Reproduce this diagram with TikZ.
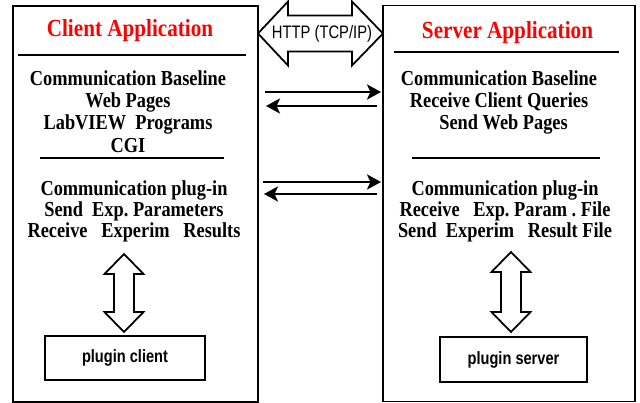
\documentclass[tikz,border=0pt]{standalone}
\usepackage{fontspec}
\setmainfont{Liberation Serif}[FakeStretch=0.86]
\newfontfamily\arialfont{Liberation Sans}[FakeStretch=0.82]
\usetikzlibrary{arrows.meta}
\definecolor{titlered}{RGB}{255,0,0}
\begin{document}
\begin{tikzpicture}[x=0.03cm,y=-0.03cm,
  appbox/.style={draw,line width=1.6pt,minimum height=11.88cm,inner sep=0pt},
  apptitle/.style={text=titlered,font=\fontsize{21}{23}\selectfont\bfseries},
  body/.style={align=center,font=\fontsize{18.2}{#1}\selectfont\bfseries},
  sepline/.style={line width=1.5pt},
  flow/.style={line width=1.6pt,-{Stealth[length=12pt,width=13pt,inset=3pt]}},
  fat/.style={draw,line width=1.5pt,fill=white,line join=miter},
  plugbox/.style={draw,line width=1.5pt,minimum height=1.33cm,
    font=\arialfont\bfseries\fontsize{15.2}{17}\selectfont}]
\useasboundingbox (0,0) rectangle (640,403);
% the two applications
\node[appbox,minimum width=7.35cm] (client) at (135.5,204) {};
\node[appbox,minimum width=7.56cm] (server) at (509,203.5) {};
\node[apptitle] (ctitle) at (130,31) {Client Application};
\node[apptitle] (stitle) at (507.5,33) {Server Application};
\draw[sepline] (18,55) -- (246,55);
\draw[sepline] (40,158) -- (224,158);
\draw[sepline] (394,52) -- (619,52);
\draw[sepline] (412,158) -- (600,158);
% client side text
\node[body=19pt] (cbase) at (128,111.5) {Communication Baseline\\Web Pages\\LabVIEW~~Programs\\CGI};
\node[body=18pt] (cplug) at (134,211) {Communication plug-in\\Send~~Exp.~Parameters\\Receive~~~Experim~~~Results};
% server side text
\node[body=19pt] (sbase) at (499,102.5) {Communication Baseline\\Receive Client Queries\\~~Send Web Pages};
\node[body=18pt] (splug) at (505,211) {Communication plug-in\\Receive~~~Exp.~Param~.~File\\Send~~Experim~~~Result File};
% HTTP link
\draw[fat] (258,33.5) -- (288,1.5) -- (288,15.5) -- (352,15.5) -- (352,1.5) -- (383,33.5)
  -- (352,65.5) -- (352,51.5) -- (288,51.5) -- (288,65.5) -- cycle;
\node[font=\arialfont\fontsize{15.4}{17}\selectfont] (http) at (322,33.5) {HTTP (TCP/IP)};
% message arrows
\coordinate (c1) at (265,92);  \coordinate (s1) at (381,92);
\coordinate (c2) at (266,106); \coordinate (s2) at (377,106);
\coordinate (c3) at (263,182); \coordinate (s3) at (381,182);
\coordinate (c4) at (264,194); \coordinate (s4) at (377,194);
\draw[flow] (c1) -- (s1);
\draw[flow] (s2) -- (c2);
\draw[flow] (c3) -- (s3);
\draw[flow] (s4) -- (c4);
% plugins
\node[plugbox,minimum width=4.8cm] (pclient) at (125,358) {plugin client};
\node[plugbox,minimum width=4.41cm] (pserver) at (513.5,359.5) {plugin server};
\draw[fat] (124,254) -- (143.5,274) -- (134,274) -- (134,312) -- (143.5,312) -- (124,332)
  -- (104.5,312) -- (114,312) -- (114,274) -- (104.5,274) -- cycle;
\draw[fat] (511,252) -- (530.5,272) -- (521,272) -- (521,312) -- (530.5,312) -- (511,332)
  -- (491.5,312) -- (501,312) -- (501,272) -- (491.5,272) -- cycle;
\end{tikzpicture}
\end{document}
